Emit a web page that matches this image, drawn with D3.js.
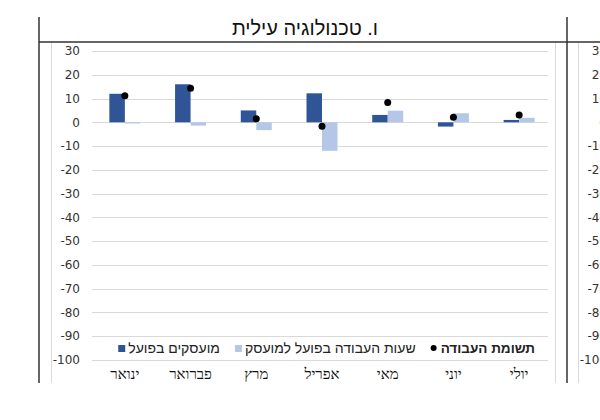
<!DOCTYPE html>
<html lang="he">
<head>
<meta charset="utf-8">
<script src="https://cdn.jsdelivr.net/npm/d3@7"></script>
<style>
  body { margin: 0; background: #fff; }
  svg { display: block; }
</style>
</head>
<body>
<div id="chart"></div>
<script>
// data
const months = ["ינואר", "פברואר", "מרץ", "אפריל", "מאי", "יוני", "יולי"];
const employed = [12, 16, 5, 12.2, 3.1, -1.8, 1];          // מועסקים בפועל
const hoursPerEmployee = [-0.5, -1.4, -3.3, -12, 4.9, 3.8, 1.9]; // שעות העבודה בפועל למועסק
const laborInput = [11.2, 14.3, 1.5, -1.7, 8.3, 2.1, 3.1];   // תשומת העבודה
const yTicks = [30, 20, 10, 0, -10, -20, -30, -40, -50, -60, -70, -80, -90, -100];
const legendNames = ["תשומת העבודה", "שעות העבודה בפועל למועסק", "מועסקים בפועל"];
const title = "ו. טכנולוגיה עילית";

const width = 600, height = 420;
const darkBlue = "#2f5597", lightBlue = "#b4c7e7";

const svg = d3.select("#chart").append("svg")
  .attr("width", width).attr("height", height);

// table frame around the chart
const frame = svg.append("g").attr("stroke", "#333").attr("stroke-width", 1.5);
frame.append("line").attr("x1", 39).attr("x2", 39).attr("y1", 17).attr("y2", 383);
frame.append("line").attr("x1", 567).attr("x2", 567).attr("y1", 17).attr("y2", 383);
frame.append("line").attr("x1", 39).attr("x2", 600).attr("y1", 42).attr("y2", 42);

// chart area borders (this chart + the neighbour on the right)
const border = svg.append("g").attr("stroke", "#d9d9d9").attr("stroke-width", 1);
border.append("line").attr("x1", 51.5).attr("x2", 51.5).attr("y1", 43).attr("y2", 383);
border.append("line").attr("x1", 555.5).attr("x2", 555.5).attr("y1", 43).attr("y2", 383);
border.append("line").attr("x1", 578.5).attr("x2", 578.5).attr("y1", 43).attr("y2", 383);

svg.append("text")
  .attr("x", 305).attr("y", 35)
  .attr("text-anchor", "middle")
  .attr("font-family", "Liberation Sans, Arial, sans-serif")
  .attr("font-size", 20)
  .attr("fill", "#111")
  .text(title);

// scales
const y = d3.scaleLinear().domain([-100, 30]).range([360, 51]);
const x = d3.scaleBand().domain(months).range([92, 552]);
const barW = 15.5;
const xSub = d3.scaleBand().domain(["emp", "hrs"])
  .range([x.bandwidth() / 2 - barW, x.bandwidth() / 2 + barW]);

// gridlines
svg.append("g").selectAll("line")
  .data(yTicks).enter().append("line")
  .attr("x1", 92).attr("x2", 548)
  .attr("y1", d => Math.round(y(d)) + 0.5).attr("y2", d => Math.round(y(d)) + 0.5)
  .attr("stroke", "#d9d9d9").attr("stroke-width", 1);

// y tick labels (this chart and the neighbour, which the crop cuts off on the right)
[80, 607].forEach(xr => {
  svg.append("g").selectAll("text")
    .data(yTicks).enter().append("text")
    .attr("x", xr).attr("y", d => y(d))
    .attr("dy", "0.35em")
    .attr("text-anchor", "end")
    .attr("font-family", "DejaVu Sans, sans-serif")
    .attr("font-size", 12)
    .attr("fill", "#333")
    .text(d => d);
});

// bars
const rows = months.map((m, i) => ({ m, emp: employed[i], hrs: hoursPerEmployee[i], inp: laborInput[i] }));

const groups = svg.append("g").selectAll("g")
  .data(rows).enter().append("g")
  .attr("transform", d => `translate(${x(d.m)},0)`);

groups.selectAll("rect")
  .data(d => [{ k: "emp", v: d.emp }, { k: "hrs", v: d.hrs }])
  .enter().append("rect")
  .attr("x", d => xSub(d.k))
  .attr("width", xSub.bandwidth())
  .attr("y", d => y(Math.max(0, d.v)))
  .attr("height", d => Math.abs(y(d.v) - y(0)))
  .attr("fill", d => d.k === "emp" ? darkBlue : lightBlue);

// labour input dots
svg.append("g").selectAll("circle")
  .data(rows).enter().append("circle")
  .attr("cx", d => x(d.m) + x.bandwidth() / 2)
  .attr("cy", d => y(d.inp))
  .attr("r", 3.5)
  .attr("fill", "#000");

// month labels
svg.append("g").selectAll("text")
  .data(months).enter().append("text")
  .attr("x", d => x(d) + x.bandwidth() / 2)
  .attr("y", 379)
  .attr("text-anchor", "middle")
  .attr("font-family", "Liberation Serif, Times New Roman, serif")
  .attr("font-size", 15)
  .attr("fill", "#111")
  .text(d => d);

// legend, laid out from right to left
const legend = svg.append("g");
let lx = 535;
legendNames.forEach((name, i) => {
  const t = legend.append("text")
    .attr("x", lx).attr("y", 348)
    .attr("dy", "0.35em")
    .attr("text-anchor", "end")
    .attr("font-family", "Liberation Sans, Arial, sans-serif")
    .attr("font-size", i === 0 ? 13.5 : 14)
    .attr("font-weight", i === 0 ? "bold" : "normal")
    .attr("fill", "#222")
    .text(name);
  const w = t.node().getComputedTextLength();
  const left = lx - w;
  if (i === 0) {
    legend.append("circle").attr("cx", left - 7).attr("cy", 348).attr("r", 3).attr("fill", "#000");
  } else {
    legend.append("rect").attr("x", left - 10).attr("y", 345).attr("width", 7).attr("height", 7)
      .attr("fill", i === 1 ? lightBlue : darkBlue);
  }
  lx = left - 25;
});
</script>
</body>
</html>
